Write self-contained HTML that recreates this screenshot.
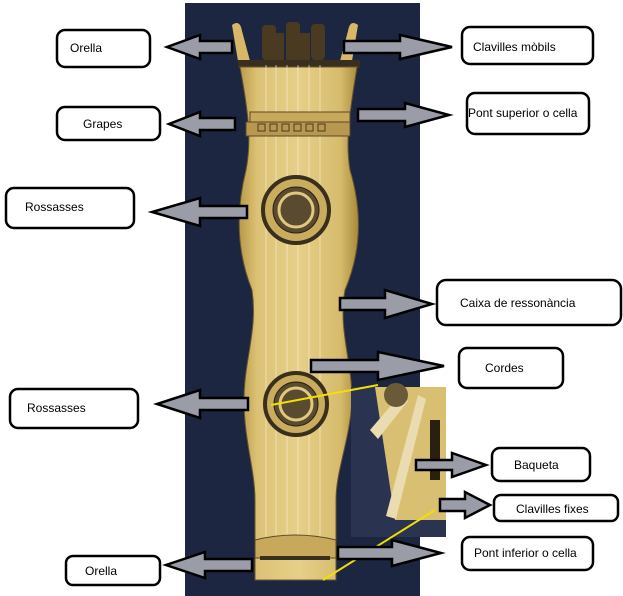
<!DOCTYPE html>
<html><head><style>
body{margin:0;background:#fff;}
svg{display:block}
text{font-family:"Liberation Sans",sans-serif;font-size:12px;fill:#000}
</style></head><body>
<svg width="623" height="596" viewBox="0 0 623 596">
<defs>
<linearGradient id="wood" x1="0" x2="1">
<stop offset="0" stop-color="#b89a45"/><stop offset="0.15" stop-color="#dcc276"/><stop offset="0.5" stop-color="#e6cf88"/><stop offset="0.85" stop-color="#d6bb6c"/><stop offset="1" stop-color="#a8893a"/>
</linearGradient>
</defs>
<rect x="185" y="3" width="235" height="593" fill="#1c2640"/>
<!-- pegs -->
<g fill="#4a3a22">
<rect x="262" y="25" width="14" height="35" rx="4"/><rect x="286" y="22" width="14" height="40" rx="4"/><rect x="311" y="24" width="14" height="36" rx="4"/>
<rect x="274" y="33" width="10" height="28"/><rect x="300" y="33" width="10" height="28"/>
</g>
<path d="M232 25 q8 -6 10 6 l8 30 l-12 0 z" fill="#d8b868"/>
<path d="M358 25 q-8 -6 -10 6 l-8 30 l12 0 z" fill="#d8b868"/>
<rect x="238" y="60" width="122" height="8" fill="#3a2e1e"/>
<!-- body -->
<path d="M240 67 L357 67 C350 110 345 140 350 170 C362 210 362 250 345 290 C338 330 352 360 352 400 C350 440 336 470 336 500 L336 580 L255 580 L255 500 C255 470 244 440 244 400 C244 360 258 330 252 290 C236 250 236 210 246 170 C252 140 248 110 240 67 Z" fill="url(#wood)" stroke="#6a5630" stroke-width="1"/>
<!-- strings -->
<g stroke="#f4ecd0" stroke-width="0.7">
<line x1="266" y1="65" x2="266" y2="555"/><line x1="276" y1="65" x2="276" y2="555"/><line x1="287" y1="65" x2="287" y2="555"/><line x1="298" y1="65" x2="298" y2="555"/><line x1="309" y1="65" x2="309" y2="555"/><line x1="320" y1="65" x2="320" y2="555"/>
</g>
<!-- bridge -->
<rect x="250" y="112" width="100" height="10" fill="#c8a85a" stroke="#5a4828"/>
<rect x="246" y="122" width="104" height="14" fill="#b89850" stroke="#5a4828"/>
<g fill="none" stroke="#4a3a20"><rect x="258" y="124" width="7" height="7"/><rect x="270" y="124" width="7" height="7"/><rect x="282" y="124" width="7" height="7"/><rect x="294" y="124" width="7" height="7"/><rect x="306" y="124" width="7" height="7"/><rect x="318" y="124" width="7" height="7"/></g>
<!-- roses -->
<g fill="#4a3e28" stroke="#2a2010">
<circle cx="296" cy="210" r="33" fill="#c9ac5e" stroke="#3a2e1c" stroke-width="4"/>
<circle cx="296" cy="210" r="23" fill="#5a4a30"/>
<circle cx="296" cy="210" r="17" fill="none" stroke="#e0c880" stroke-width="3"/>
<circle cx="296" cy="404" r="31" fill="#c9ac5e" stroke="#3a2e1c" stroke-width="4"/>
<circle cx="296" cy="404" r="22" fill="#5a4a30"/>
<circle cx="296" cy="404" r="16" fill="none" stroke="#e0c880" stroke-width="3"/>
</g>
<!-- bottom bridge -->
<path d="M255 540 q40 -10 81 0 l0 18 l-81 0 z" fill="#c8a85a" stroke="#5a4828"/>
<rect x="260" y="556" width="70" height="4" fill="#3a2e1e"/>
<!-- inset -->
<rect x="351" y="387" width="95" height="150" fill="#2a3350"/>
<path d="M375 387 L446 387 L446 520 L395 520 Z" fill="#d8bf72"/>
<rect x="430" y="420" width="10" height="60" fill="#2a2010"/>
<path d="M418 395 l8 4 l-30 120 l-10 -3 z" fill="#eadcb0"/>
<path d="M370 430 l30 -35 l8 6 l-30 38 z" fill="#eadcb0"/>
<circle cx="396" cy="395" r="12" fill="#6a5a38"/>
<!-- yellow lines -->
<line x1="271" y1="405" x2="378" y2="385" stroke="#f2e000" stroke-width="2"/>
<line x1="323" y1="580" x2="435" y2="510" stroke="#f2e000" stroke-width="2"/>
<!-- arrows -->
<g fill="#9a9ca8" stroke="#000" stroke-width="2.5" stroke-linejoin="miter">
<polygon points="232,41 200,41 200,35 167,47 200,59 200,53 232,53"/>
<polygon points="235,118 200,118 200,112 169,124 200,136 200,130 235,130"/>
<polygon points="247,206 200,206 200,198 152,212 200,226 200,218 247,218"/>
<polygon points="248,398 200,398 200,390 157,404 200,418 200,410 248,410"/>
<polygon points="252,559 205,559 205,552 166,565 205,578 205,571 252,571"/>
<polygon points="344,41 400,41 400,35 452,47 400,59 400,53 344,53"/>
<polygon points="358,109 405,109 405,103 449,115 405,127 405,121 358,121"/>
<polygon points="340,298 385,298 385,290 432,304 385,318 385,310 340,310"/>
<polygon points="311,360 378,360 378,352 444,366 378,380 378,372 311,372"/>
<polygon points="416,460 452,460 452,453 486,465 452,477 452,470 416,470"/>
<polygon points="440,499 465,499 465,492 490,505 465,518 465,511 440,511"/>
<polygon points="338,547 392,547 392,540 441,553 392,566 392,559 338,559"/>
</g>
<!-- boxes -->
<g fill="#fff" stroke="#000" stroke-width="2.5">
<rect x="57" y="30" width="93" height="37" rx="8"/>
<rect x="462" y="27" width="131" height="37" rx="8"/>
<rect x="57" y="107" width="103" height="33" rx="8"/>
<rect x="467" y="93" width="122" height="41" rx="8"/>
<rect x="6" y="188" width="128" height="40" rx="8"/>
<rect x="437" y="280" width="184" height="45" rx="9"/>
<rect x="459" y="348" width="104" height="40" rx="8"/>
<rect x="10" y="389" width="128" height="39" rx="8"/>
<rect x="492" y="448" width="98" height="33" rx="8"/>
<rect x="494" y="495" width="124" height="26" rx="7"/>
<rect x="462" y="537" width="131" height="33" rx="8"/>
<rect x="66" y="556" width="94" height="29" rx="7"/>
</g>
<text x="70" y="52">Orella</text>
<text x="473" y="51">Clavilles mòbils</text>
<text x="83" y="128">Grapes</text>
<text x="468" y="117">Pont superior o cella</text>
<text x="25" y="211">Rossasses</text>
<text x="460" y="307">Caixa de ressonància</text>
<text x="485" y="372">Cordes</text>
<text x="27" y="412">Rossasses</text>
<text x="514" y="469">Baqueta</text>
<text x="516" y="513">Clavilles fixes</text>
<text x="474" y="557">Pont inferior o cella</text>
<text x="85" y="575">Orella</text>
</svg>
</body></html>
